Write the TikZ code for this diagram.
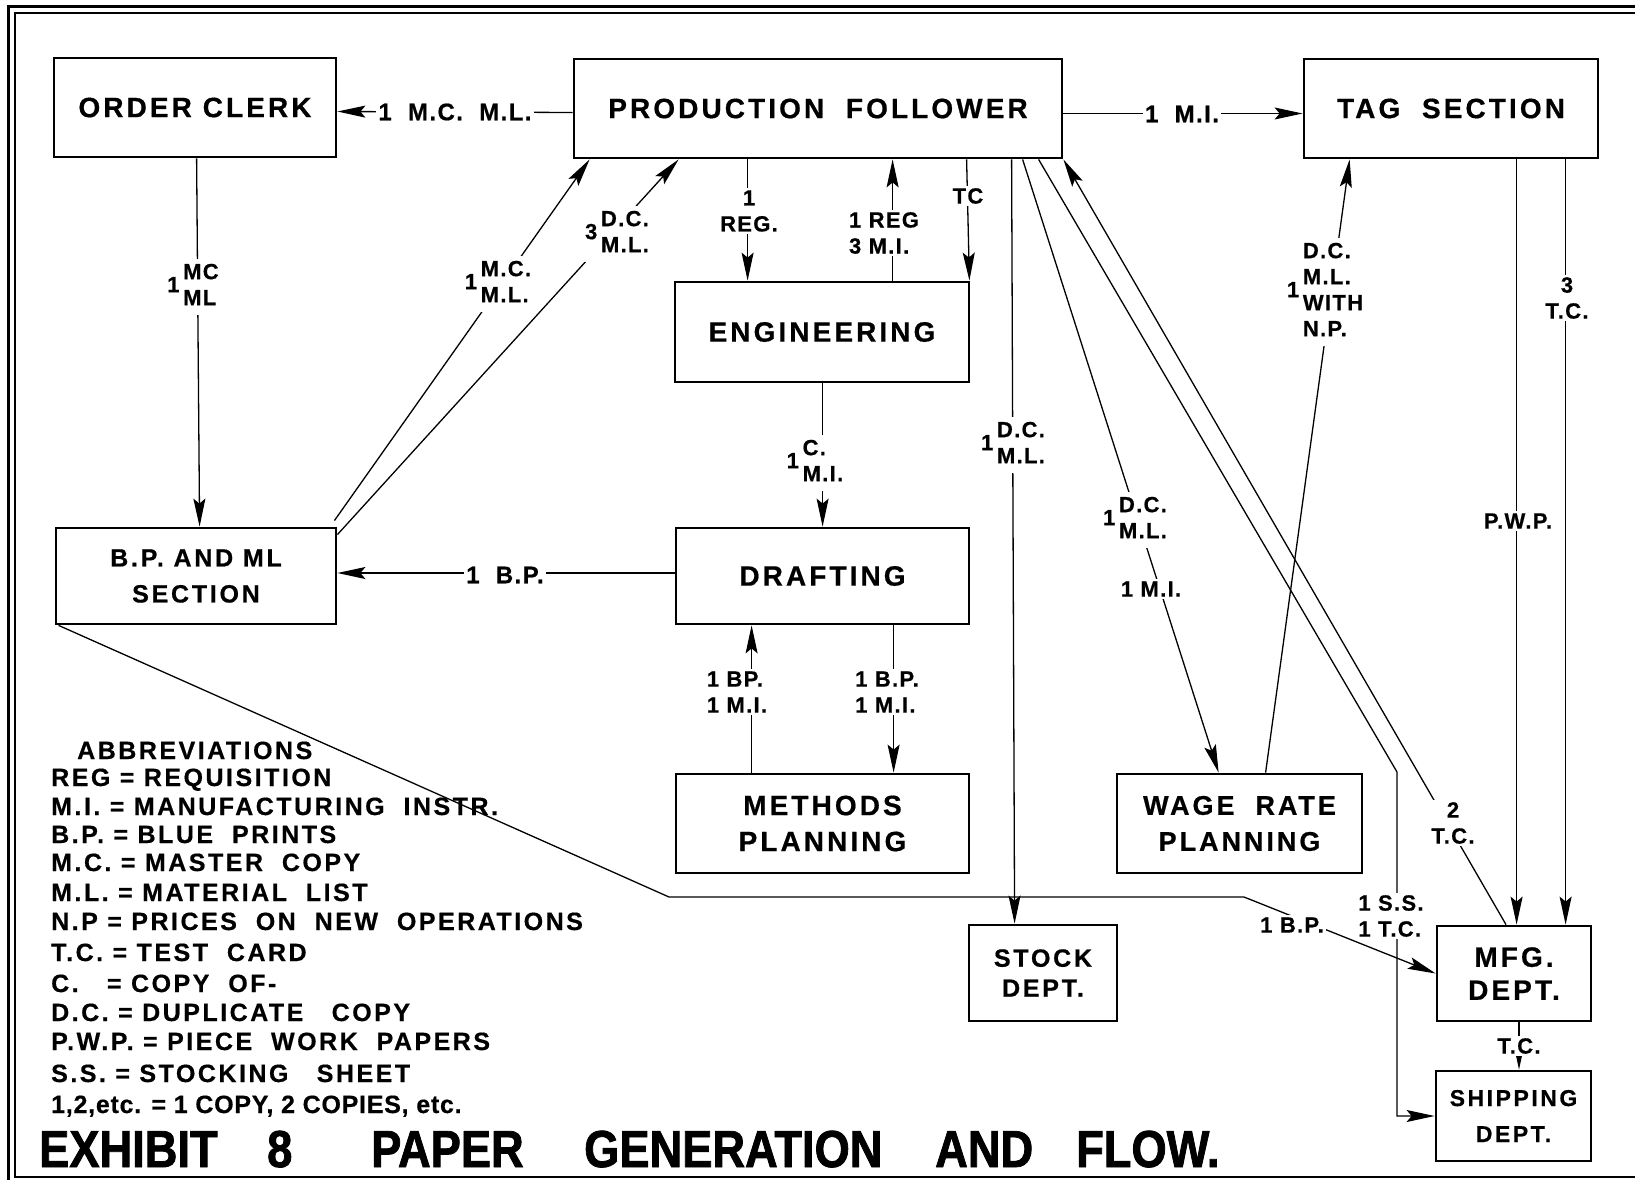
\documentclass[tikz,border=0pt]{standalone}
\usepackage{fontspec}
\setmainfont{Liberation Sans}
\newfontfamily\hand[LetterSpace=11,FakeBold=0.6]{Liberation Sans}
\newfontfamily\labf[LetterSpace=6,FakeBold=0.6]{Liberation Sans}
\newfontfamily\abf[LetterSpace=10,FakeBold=0.5]{Liberation Sans}
\newfontfamily\abfn[LetterSpace=3,FakeBold=0.5]{Liberation Sans}
\newfontfamily\titlef[FakeBold=1.5,FakeStretch=0.87]{Liberation Sans}
\usetikzlibrary{arrows.meta,calc}
\newcommand\stk[1]{\begin{tabular}{@{}l@{}}#1\end{tabular}}
\tikzset{
 box/.style={draw, line width=2.8pt, inner sep=0pt, align=center, font=\hand\bfseries\fontsize{28}{36}\selectfont},
 conn/.style={line width=1.3pt, -{Stealth[length=28pt,width=12pt,inset=5pt]}},
 lab/.style={fill=white, inner sep=2pt, align=left, font=\labf\bfseries\fontsize{22}{26}\selectfont},
 labw/.style={lab, font=\labf\bfseries\fontsize{24}{28}\selectfont},
 abbr/.style={anchor=base west, inner sep=0pt, font=\abf\bfseries\fontsize{25}{28}\selectfont},
 ttl/.style={anchor=base west, inner sep=0pt, font=\titlef\bfseries\fontsize{52}{56}\selectfont},
}
\begin{document}
\begin{tikzpicture}[x=1pt,y=-1pt]
\useasboundingbox (0,0) rectangle (1635,1180);
\clip (0,0) rectangle (1635,1180);
\fill[white] (0,0) rectangle (1635,1180);
% frame
\draw[line width=3pt] (8,7) rectangle (1700,1200);
\draw[line width=2pt] (15,13) rectangle (1690,1177);

% boxes
\node[box, minimum width=282pt, minimum height=99pt] (oc) at (195,107.5) {ORDER CLERK};
\node[box, minimum width=488pt, minimum height=99pt] (pf) at (818,108.5) {PRODUCTION\ \ FOLLOWER};
\node[box, minimum width=294pt, minimum height=99pt] (tag) at (1451,108.5) {TAG\ \ SECTION};
\node[box, minimum width=294pt, minimum height=100pt] (eng) at (822,332) {ENGINEERING};
\node[box, minimum width=280pt, minimum height=96pt, font=\hand\bfseries\fontsize{25}{36}\selectfont] (bp) at (196,576) {B.P. AND ML\\SECTION};
\node[box, minimum width=293pt, minimum height=96pt] (dr) at (822.5,576) {DRAFTING};
\node[box, minimum width=293pt, minimum height=99pt] (mp) at (822.5,823.5) {METHODS\\PLANNING};
\node[box, minimum width=245pt, minimum height=99pt, font=\hand\bfseries\fontsize{27}{36}\selectfont] (wr) at (1239.5,823.5) {WAGE\ \ RATE\\PLANNING};
\node[box, minimum width=148pt, minimum height=96pt, font=\hand\bfseries\fontsize{25}{30}\selectfont] (st) at (1043,973) {STOCK\\DEPT.};
\node[box, minimum width=154pt, minimum height=95pt, font=\hand\bfseries\fontsize{28}{33}\selectfont] (mfg) at (1514,973.5) {MFG.\\DEPT.};
\node[box, minimum width=155pt, minimum height=90pt, font=\hand\bfseries\fontsize{23}{36}\selectfont] (sh) at (1513.5,1116) {SHIPPING\\DEPT.};

% attach points
\coordinate (pwpT) at ([xshift=214pt]tag.south west);
\coordinate (tcT) at ([xshift=263pt]tag.south west);
\coordinate (mfgB) at ([xshift=5pt]mfg.south);
\coordinate (shK) at (1397,772);
\coordinate (bpK1) at (669,897);
\coordinate (bpK2) at (1244,897);

% connectors
\draw[conn] ([yshift=-4pt]pf.west) -- ([yshift=-4pt]oc.east);
\draw[conn] ([yshift=-5pt]pf.east) -- ([yshift=-5pt]tag.west);
\draw[conn] ([xshift=144pt]oc.south west) -- ([xshift=145pt]bp.north west);
\draw[conn] ([xshift=-3pt,yshift=6pt]bp.north east) -- ([xshift=17pt]pf.south west);
\draw[conn] ([yshift=-8pt]bp.north east) -- ([xshift=106pt]pf.south west);
\draw[conn] ([xshift=175pt]pf.south west) -- ([xshift=74pt]eng.north west);
\draw[conn] ([xshift=219pt]eng.north west) -- ([xshift=320pt]pf.south west);
\draw[conn] ([xshift=394pt]pf.south west) -- ([xshift=-1pt]eng.north east);
\draw[conn] ([xshift=439pt]pf.south west) -- ([xshift=47pt]st.north west);
\draw[conn] ([xshift=450pt]pf.south west) -- ([xshift=103pt]wr.north west);
\draw[conn] ([xshift=466pt]pf.south west) -- (shK) |- (sh.west);
\draw[conn] ([xshift=-8pt]mfg.north) -- (pf.south east);
\draw[conn] ([xshift=150pt]wr.north west) -- ([xshift=47pt]tag.south west);
\draw[conn] (pwpT) -- (pwpT |- mfg.north);
\draw[conn] (tcT) -- (tcT |- mfg.north);
\draw[conn] (mfgB) -- (mfgB |- sh.north);
\draw[conn] ([xshift=149pt]eng.south west) -- ([xshift=148pt]dr.north west);
\draw[conn] ([yshift=3pt]dr.west) -- ([yshift=3pt]bp.east);
\draw[conn] ([xshift=77pt]mp.north west) -- ([xshift=77pt]dr.south west);
\draw[conn] ([xshift=219pt]dr.south west) -- ([xshift=219pt]mp.north west);
\draw[conn] ([xshift=4pt]bp.south west) -- (bpK1) -- (bpK2) -- (mfg.west);

% connector labels
\node[labw] (l1) at (455,112) {1\ \ M.C.\ \ M.L.};
\node[labw] (l2) at (1182,114) {1\ \ M.I.};
\node[lab] (l3) at (193,287) {1\,\stk{MC\\ML}};
\node[lab] (l4) at (498,284) {1\,\stk{M.C.\\M.L.}};
\node[lab] (l5) at (617,234) {3\,\stk{D.C.\\M.L.}};
\node[lab, align=center] (l6) at (749,211) {1\\REG.};
\node[lab] (l7) at (884,233) {1 REG\\3 M.I.};
\node[lab] (l8) at (968,196) {TC};
\node[lab] (l9) at (1013,445) {1\,\stk{D.C.\\M.L.}};
\node[lab] (l10) at (1135,520) {1\,\stk{D.C.\\M.L.}};
\node[lab] (l11) at (1151,589) {1 M.I.};
\node[lab] (l12) at (1325,292) {1\,\stk{D.C.\\M.L.\\WITH\\N.P.}};
\node[lab] (l13) at (1518,521) {P.W.P.};
\node[lab, align=center] (l14) at (1567,298) {3\\T.C.};
\node[lab, align=center] (l15) at (1453,823) {2\\T.C.};
\node[lab] (l16) at (1391,916) {1 S.S.\\1 T.C.};
\node[lab] (l17) at (1292,925) {1 B.P.};
\node[lab] (l18) at (815,463) {1\,\stk{C.\\M.I.}};
\node[labw] (l19) at (505,575) {1\ \ B.P.};
\node[lab] (l20) at (737,692) {1 BP.\\1 M.I.};
\node[lab] (l21) at (887,692) {1 B.P.\\1 M.I.};
\node[lab] (l22) at (1519,1046) {T.C.};

% abbreviations
\node[abbr] (ab0) at (77,759) {ABBREVIATIONS};
\node[abbr] (ab1) at (51,786) {REG = REQUISITION};
\node[abbr] (ab2) at (51,815) {M.I. = MANUFACTURING\ \ INSTR.};
\node[abbr] (ab3) at (51,843) {B.P. = BLUE\ \ PRINTS};
\node[abbr] (ab4) at (51,871) {M.C. = MASTER\ \ COPY};
\node[abbr] (ab5) at (51,901) {M.L. = MATERIAL\ \ LIST};
\node[abbr] (ab6) at (51,930) {N.P = PRICES\ \ ON\ \ NEW\ \ OPERATIONS};
\node[abbr] (ab7) at (51,961) {T.C. = TEST\ \ CARD};
\node[abbr] (ab8) at (51,992) {C.\ \ \ = COPY\ \ OF-};
\node[abbr] (ab9) at (51,1021) {D.C. = DUPLICATE\ \ \ COPY};
\node[abbr] (ab10) at (51,1050) {P.W.P. = PIECE\ \ WORK\ \ PAPERS};
\node[abbr] (ab11) at (51,1082) {S.S. = STOCKING\ \ \ SHEET};
\node[abbr, font=\abfn\bfseries\fontsize{25}{28}\selectfont] (ab12) at (51,1113) {1,2,etc. = 1 COPY, 2 COPIES, etc.};

% title
\node[ttl] (t1) at (39,1167) {EXHIBIT};
\node[ttl] (t2) at (267,1167) {8};
\node[ttl] (t3) at (371,1167) {PAPER};
\node[ttl] (t4) at (584,1167) {GENERATION};
\node[ttl] (t5) at (935,1167) {AND};
\node[ttl] (t6) at (1076,1167) {FLOW.};
\end{tikzpicture}
\end{document}
